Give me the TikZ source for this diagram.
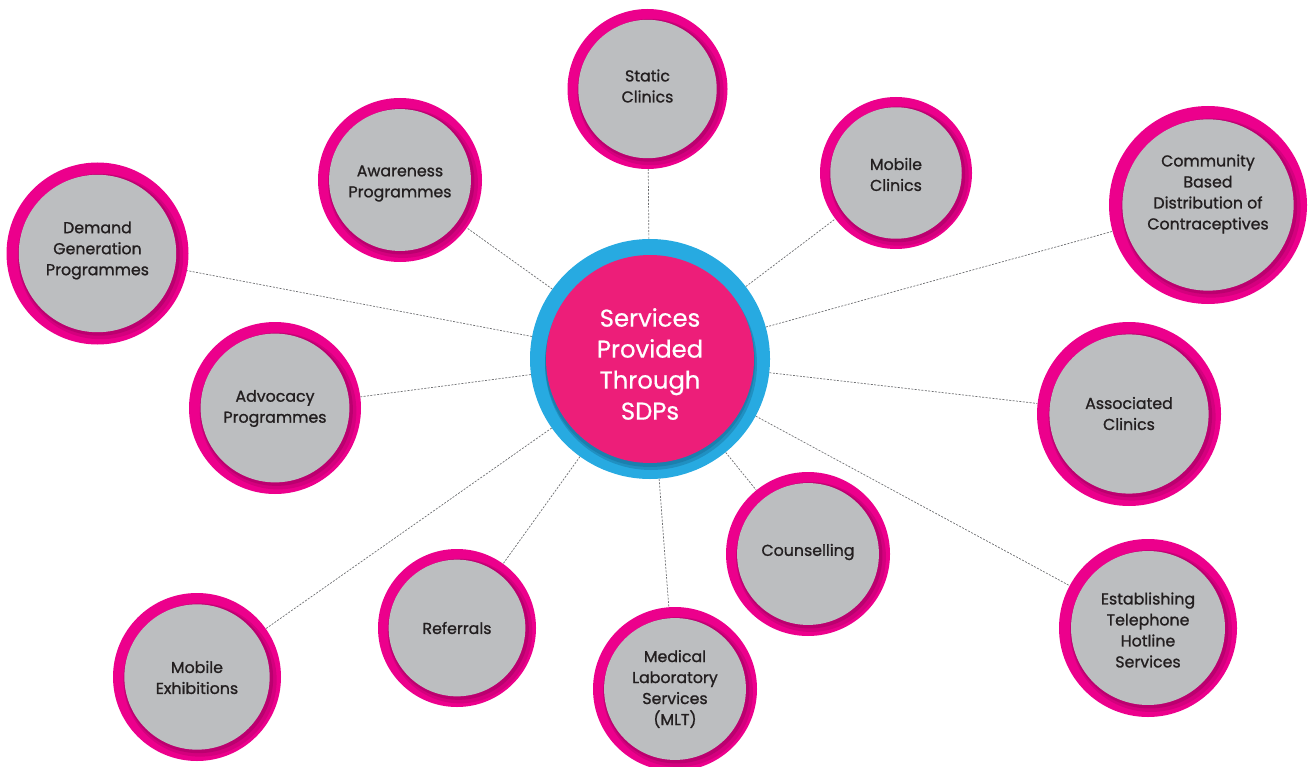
\documentclass[tikz,border=0pt]{standalone}
\usepackage{fontspec}
\setmainfont{Poppins}
\newfontfamily\satfont{Poppins}[FakeBold=1.1]
\newfontfamily\hubfont{Poppins}[FakeBold=0.6]
\definecolor{ringpink}{HTML}{EC008C}
\definecolor{ringdark}{HTML}{8E0055}
\definecolor{satgray}{HTML}{BCBEC0}
\definecolor{textc}{HTML}{231F20}
\definecolor{hubblue}{HTML}{27AAE1}
\definecolor{hubshadow}{HTML}{14628A}
\definecolor{hubpink}{HTML}{ED1E79}
\definecolor{linec}{HTML}{6D6E71}
\pgfdeclarelayer{lines}
\pgfsetlayers{lines,main}
\tikzset{
  sattext/.style={align=center,text=textc,font=\satfont\fontsize{15.8}{21}\selectfont,inner sep=0pt},
  hubtext/.style={align=center,text=white,font=\hubfont\fontsize{24.3}{31}\selectfont,inner sep=0pt},
  ringshape/.style={circle,inner sep=0pt,draw=none},
  connector/.style={draw=linec,line width=0.7pt,dash pattern=on 2pt off 1.4pt},
}
% name, x, y, R, text yshift, text
\newcommand\satnode[6]{%
  \fill[ringpink] (#2,#3) circle (#4);
  \fill[ringdark,opacity=.25] ({#2+3},{#3+3}) circle ({0.865*#4+4});
  \fill[ringdark,opacity=.35] ({#2+1.5},{#3+1.5}) circle ({0.865*#4+2});
  \fill[satgray] (#2,#3) circle ({0.865*#4});
  \node[ringshape,minimum size={2*#4}] (#1) at (#2,#3) {};
  \node[sattext] at (#2,{#3+#5}) {#6};
}
\begin{document}
\begin{tikzpicture}[x=1pt,y=-1pt]
\useasboundingbox (0,0) rectangle (1308,767);
% hub
\fill[hubblue] (650,359) circle (120);
\fill[hubshadow,opacity=.35] (651,364) circle (106);
\fill[hubshadow,opacity=.35] (650,362) circle (105);
\fill[hubpink] (650,359) circle (104);
\node[ringshape,minimum size=240] (hub) at (650,359) {};
\node[hubtext] at (650,364) {Services\\Provided\\Through\\SDPs};
% satellites
\satnode{static}{647.5}{89}{80}{-3}{Static\\Clinics}
\satnode{mobile}{896}{173}{76}{1.5}{Mobile\\Clinics}
\satnode{community}{1208}{205}{99}{-11}{Community\\Based\\Distribution of\\Contraceptives}
\satnode{associated}{1129}{414}{92}{-0.5}{Associated\\Clinics}
\satnode{hotline}{1148}{628}{89}{2}{Establishing\\Telephone\\Hotline\\Services}
\satnode{counsel}{808}{554}{82}{-2}{Counselling}
\satnode{mlt}{675}{689}{82}{0}{Medical\\Laboratory\\Services\\(MLT)}
\satnode{referrals}{457}{628}{79}{0}{Referrals}
\satnode{exhib}{197}{677}{84}{0.5}{Mobile\\Exhibitions}
\satnode{advocacy}{275}{408}{86}{0.5}{Advocacy\\Programmes}
\satnode{demand}{97.5}{253.5}{91}{-3}{Demand\\Generation\\Programmes}
\satnode{awareness}{400}{180}{82}{3.5}{Awareness\\Programmes}
% connectors
\begin{pgfonlayer}{lines}
\foreach \s in {static,mobile,community,associated,hotline,counsel,mlt,referrals,exhib,advocacy,demand,awareness}
  \draw[connector] (hub) -- (\s);
\end{pgfonlayer}
\end{tikzpicture}
\end{document}
